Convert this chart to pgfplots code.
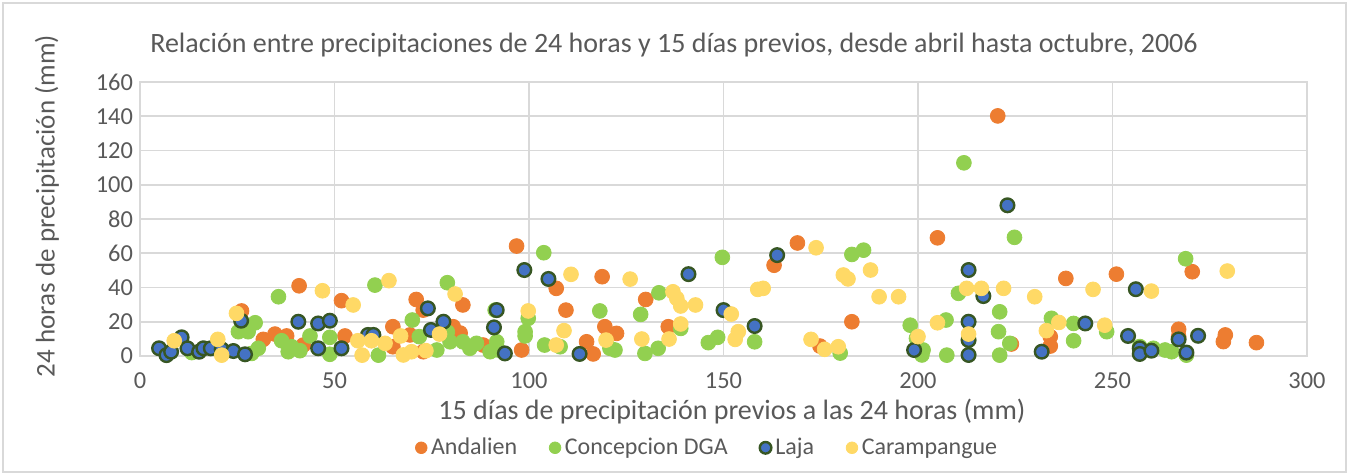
\documentclass[border=0pt]{standalone}
\usepackage{pgfplots}
\pgfplotsset{compat=1.18}
\usepackage{fontspec}
\setmainfont{Carlito}

\definecolor{txt}{HTML}{595959}
\definecolor{gridc}{HTML}{D9D9D9}
\definecolor{cAnd}{HTML}{ED7D31}
\definecolor{cCon}{HTML}{92D050}
\definecolor{cLaj}{HTML}{4472C4}
\definecolor{cLajE}{HTML}{375623}
\definecolor{cCar}{HTML}{FFD966}

\begin{document}
\begin{tikzpicture}
\useasboundingbox (-70pt,-59.5pt) rectangle (604.5pt,178pt);
\draw[gridc, line width=0.6pt] (-68.5pt,-58pt) rectangle (603pt,176.5pt);
\begin{axis}[
  at={(0pt,0pt)}, anchor=south west,
  scale only axis, width=583.5pt, height=137pt,
  xmin=0, xmax=300, ymin=0, ymax=160,
  xtick={0,50,...,300}, ytick={0,20,...,160},
  xmajorgrids, ymajorgrids,
  grid style={gridc, line width=0.8pt},
  axis line style={gridc, line width=0.8pt},
  major tick length=0pt,
  tick label style={font=\fontsize{12.2}{14}\selectfont, text=txt},
  xticklabel style={yshift=-5pt},
  /pgf/number format/assume math mode=true,
  legend columns=4,
  legend image post style={mark size=2.9pt},
  legend style={at={(0.487,-0.335)}, anchor=center, draw=none, fill=none,
    font=\fontsize{12}{14}\selectfont, text=txt,
    /tikz/every even column/.append style={column sep=14pt}},
  legend cell align=left,
]
\addplot[only marks, mark=*, mark size=3.7pt, mark options={draw=cAnd, fill=cAnd}] coordinates {
(220.5,140.2)(205,69)(169,66)(96.8,64.2)(163,53)(251,47.8)(238,45.3)(270.5,49.2)
(118.8,46.3)(107,39.5)(40.9,41)(83,29.8)(51.8,32.3)(109.5,26.8)(71,33)(130,33)
(183,20)(26.1,26.3)(31.7,9.7)(34.7,12.8)(37.7,11.7)(42,6.4)(52.7,11.7)(72.8,26.8)
(65,17.1)(80.5,17.1)(82.3,13.4)(98.1,3.5)(114.8,8.3)(116.5,1.2)(119.5,17.1)(69.4,12.3)
(72.8,2.5)(65,5.4)(88.2,6.4)(135.8,17.1)(122.5,13.2)(174.8,5.8)(234,11.3)(234,5.8)
(224,7)(267,15.6)(267,11.3)(279,12.3)(278.5,8.4)(287,7.8)
};
\addlegendentry{Andalien}
\addplot[only marks, mark=*, mark size=3.7pt, mark options={draw=cCon, fill=cCon}] coordinates {
(35.6,34.6)(60.4,41.4)(29.6,19.4)(25.3,14.2)(27.8,14.2)(30.4,4.5)(36.4,8.9)(39,5.4)
(38.1,2.5)(41.1,3.1)(43.7,11.7)(48.8,10.9)(48.8,1)(13.3,2)(28.7,1.5)(79,42.8)
(70,21)(103.8,60.3)(118.2,26.3)(99.8,22)(99,14.2)(99,11.7)(104,6.4)(91.3,26.8)
(91.7,8.3)(61.3,0.5)(76.3,3.5)(79.7,8.3)(79,14)(83,8.3)(84.8,4.5)(86.5,7.4)
(90,2.5)(92.1,3.5)(71.8,11.3)(108,5.4)(120.8,4.5)(149.7,57.6)(133.4,36.9)(128.7,24.3)
(139,16.1)(122.1,3.5)(129.8,1.5)(133.2,4.5)(146.1,7.8)(148.5,10.9)(158,8.3)(180,1.7)
(183,59.3)(186,61.8)(198,18)(199.6,10.3)(201,0.6)(201.3,3.5)(207.4,0.5)(207.2,21)
(210.4,36.6)(221,25.8)(220.7,14.2)(221,0.5)(223.6,7.4)(234.3,22)(240,19)(240,8.9)
(211.8,112.8)(224.8,69.3)(248.5,14.2)(257,5.5)(260.5,4.5)(263.5,3.5)(265.2,2.5)(269,0.5)
(268.8,56.8)
};
\addlegendentry{Concepcion DGA}
\addplot[only marks, mark=*, mark size=3.4pt, mark options={draw=cLajE, fill=cLaj, line width=1.2pt}] coordinates {
(4.9,4.5)(6.8,0.5)(8,2.5)(10.7,10.9)(12.2,4.5)(15.2,2.5)(16.3,4.5)(18.2,4.5)
(21,3.9)(24,2.9)(27,1)(26,20.6)(40.7,20)(45.8,19)(48.8,20.6)(45.8,4.5)
(51.8,4.5)(58.6,12.3)(60,12.3)(74,27.8)(78,20)(74.8,15.2)(91.7,26.8)(91,16.7)
(93.8,1.5)(98.8,50.2)(105,45)(113,1.2)(141,47.8)(163.8,58.9)(150,26.8)(158,17.5)
(213,50.2)(213,20)(213,9.3)(213,0.6)(216.8,35)(199,3.5)(231.8,2.5)(223,88)
(243,19)(256,39)(254,11.7)(257,4.5)(257,1.2)(260,3.1)(267,9.7)(269,2)(272,11.8)
};
\addlegendentry{Laja}
\addplot[only marks, mark=*, mark size=3.7pt, mark options={draw=cCar, fill=cCar}] coordinates {
(8.8,8.9)(20,9.7)(21,0.5)(24.8,24.9)(46.9,38.1)(54.8,29.8)(56,8.9)(57.1,0.5)
(59.5,8.9)(64,44)(81,36.2)(67,11.7)(63,7.4)(67.7,0.6)(69.8,2.5)(73.5,3.1)
(77,12.8)(99.8,26.3)(110.8,47.7)(109,14.8)(107,6.4)(119.8,9.3)(126,44.9)(137,37.5)
(138,33.6)(139,29.2)(142.8,29.8)(139,18.7)(129,9.9)(136,9.9)(152,24.5)(153.8,14.2)
(153,9.7)(158.8,38.9)(160.2,39.5)(173.8,63.2)(172.5,9.7)(176,3.9)(179.5,5.4)(180.8,47.3)
(182,45)(187.8,50.2)(190,34.6)(195,34.6)(200,11.3)(205,19.4)(212.5,39.5)(216.3,39.5)
(222,39.5)(213,12.8)(230,34.6)(233,14.8)(236.2,19.6)(245,38.9)(248,18)(260,37.9)
(279.5,49.6)
};
\addlegendentry{Carampangue}
\end{axis}
\node[text=txt, font=\fontsize{14}{16}\selectfont] at (267pt,155.5pt) {Relación entre precipitaciones de 24 horas y 15 días previos, desde abril hasta octubre, 2006};
\node[text=txt, font=\fontsize{14}{16}\selectfont] at (296pt,-28pt) {15 días de precipitación previos a las 24 horas (mm)};
\node[text=txt, font=\fontsize{13.5}{16}\selectfont, rotate=90] at (-46.5pt,75pt) {24 horas de precipitación (mm)};
\end{tikzpicture}
\end{document}
